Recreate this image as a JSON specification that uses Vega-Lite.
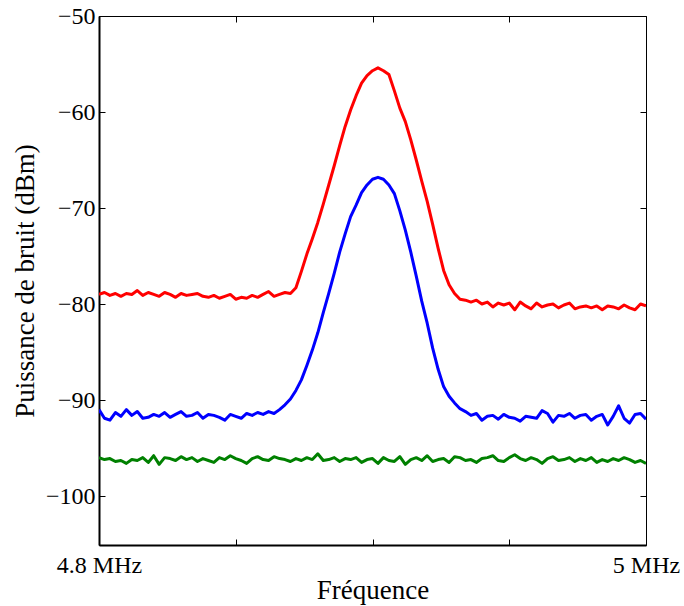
{
  "$schema": "https://vega.github.io/schema/vega-lite/v6.json",
  "width": 547,
  "height": 529,
  "autosize": {"type": "none"},
  "padding": {"left": 99, "top": 16, "right": 38, "bottom": 61},
  "background": "white",
  "config": {
    "view": {"stroke": "black", "strokeWidth": 1},
    "font": "Liberation Serif",
    "axis": {"labelFont": "Liberation Serif", "titleFont": "Liberation Serif", "labelColor": "black", "titleColor": "black", "grid": false, "tickColor": "black", "domainColor": "black", "labelFontSize": 24, "titleFontSize": 27, "titleFontWeight": "normal"}
  },
  "data": {"values": [
    {"f":4.800,"r":-79.0,"b":-91.0,"g":-96.0},
    {"f":4.802,"r":-78.8,"b":-91.9,"g":-96.2},
    {"f":4.804,"r":-79.1,"b":-92.1,"g":-96.1},
    {"f":4.806,"r":-78.9,"b":-91.3,"g":-96.4},
    {"f":4.808,"r":-79.2,"b":-91.7,"g":-96.3},
    {"f":4.810,"r":-78.9,"b":-91.0,"g":-96.6},
    {"f":4.812,"r":-79.0,"b":-91.6,"g":-96.2},
    {"f":4.814,"r":-78.6,"b":-91.2,"g":-96.3},
    {"f":4.816,"r":-79.1,"b":-91.9,"g":-96.0},
    {"f":4.818,"r":-78.8,"b":-91.8,"g":-96.5},
    {"f":4.820,"r":-79.0,"b":-91.5,"g":-95.8},
    {"f":4.822,"r":-79.2,"b":-91.7,"g":-96.7},
    {"f":4.824,"r":-78.8,"b":-91.3,"g":-96.0},
    {"f":4.826,"r":-79.0,"b":-91.8,"g":-96.1},
    {"f":4.828,"r":-79.3,"b":-91.5,"g":-96.3},
    {"f":4.830,"r":-78.9,"b":-91.2,"g":-95.9},
    {"f":4.832,"r":-79.1,"b":-91.7,"g":-96.2},
    {"f":4.834,"r":-79.0,"b":-91.6,"g":-96.0},
    {"f":4.836,"r":-78.9,"b":-91.3,"g":-96.4},
    {"f":4.838,"r":-79.2,"b":-91.9,"g":-96.1},
    {"f":4.840,"r":-79.3,"b":-91.5,"g":-96.3},
    {"f":4.842,"r":-79.1,"b":-91.6,"g":-96.5},
    {"f":4.844,"r":-79.4,"b":-91.8,"g":-96.0},
    {"f":4.846,"r":-79.2,"b":-92.1,"g":-96.2},
    {"f":4.848,"r":-79.0,"b":-91.5,"g":-95.8},
    {"f":4.850,"r":-79.5,"b":-91.7,"g":-96.1},
    {"f":4.852,"r":-79.3,"b":-91.9,"g":-96.3},
    {"f":4.854,"r":-79.4,"b":-91.4,"g":-96.6},
    {"f":4.856,"r":-79.1,"b":-91.6,"g":-96.1},
    {"f":4.858,"r":-79.3,"b":-91.3,"g":-95.9},
    {"f":4.860,"r":-79.0,"b":-91.5,"g":-96.2},
    {"f":4.862,"r":-78.7,"b":-91.2,"g":-96.3},
    {"f":4.864,"r":-79.2,"b":-91.4,"g":-95.9},
    {"f":4.866,"r":-79.0,"b":-91.0,"g":-96.1},
    {"f":4.868,"r":-78.8,"b":-90.5,"g":-96.2},
    {"f":4.870,"r":-78.9,"b":-89.9,"g":-96.4},
    {"f":4.872,"r":-78.3,"b":-89.0,"g":-96.1},
    {"f":4.874,"r":-76.6,"b":-87.9,"g":-96.3},
    {"f":4.876,"r":-74.8,"b":-86.4,"g":-96.0},
    {"f":4.878,"r":-73.2,"b":-84.8,"g":-96.2},
    {"f":4.880,"r":-71.5,"b":-83.0,"g":-95.6},
    {"f":4.882,"r":-69.6,"b":-80.9,"g":-96.3},
    {"f":4.884,"r":-67.6,"b":-78.9,"g":-96.2},
    {"f":4.886,"r":-65.6,"b":-76.8,"g":-96.0},
    {"f":4.888,"r":-63.5,"b":-74.6,"g":-96.4},
    {"f":4.890,"r":-61.5,"b":-72.7,"g":-96.1},
    {"f":4.892,"r":-59.8,"b":-70.9,"g":-96.2},
    {"f":4.894,"r":-58.3,"b":-69.7,"g":-96.0},
    {"f":4.896,"r":-57.0,"b":-68.4,"g":-96.5},
    {"f":4.898,"r":-56.2,"b":-67.6,"g":-96.2},
    {"f":4.900,"r":-55.7,"b":-67.0,"g":-96.1},
    {"f":4.902,"r":-55.4,"b":-66.8,"g":-96.6},
    {"f":4.904,"r":-55.7,"b":-67.0,"g":-96.0},
    {"f":4.906,"r":-56.1,"b":-67.6,"g":-96.3},
    {"f":4.908,"r":-57.8,"b":-68.5,"g":-96.4},
    {"f":4.910,"r":-59.6,"b":-70.3,"g":-95.9},
    {"f":4.912,"r":-61.0,"b":-72.3,"g":-96.7},
    {"f":4.914,"r":-62.9,"b":-74.6,"g":-96.2},
    {"f":4.916,"r":-65.0,"b":-77.1,"g":-96.0},
    {"f":4.918,"r":-67.2,"b":-79.7,"g":-96.3},
    {"f":4.920,"r":-69.3,"b":-82.0,"g":-95.8},
    {"f":4.922,"r":-71.7,"b":-84.6,"g":-96.4},
    {"f":4.924,"r":-74.2,"b":-86.8,"g":-96.2},
    {"f":4.926,"r":-76.5,"b":-88.6,"g":-96.1},
    {"f":4.928,"r":-78.0,"b":-89.6,"g":-96.5},
    {"f":4.930,"r":-78.9,"b":-90.3,"g":-95.9},
    {"f":4.932,"r":-79.5,"b":-90.9,"g":-96.0},
    {"f":4.934,"r":-79.6,"b":-91.2,"g":-96.3},
    {"f":4.936,"r":-79.8,"b":-91.6,"g":-96.2},
    {"f":4.938,"r":-79.6,"b":-91.4,"g":-96.5},
    {"f":4.940,"r":-80.0,"b":-92.1,"g":-96.1},
    {"f":4.942,"r":-79.8,"b":-91.7,"g":-96.0},
    {"f":4.944,"r":-80.3,"b":-91.6,"g":-95.8},
    {"f":4.946,"r":-79.9,"b":-92.0,"g":-96.3},
    {"f":4.948,"r":-80.1,"b":-91.5,"g":-96.4},
    {"f":4.950,"r":-79.9,"b":-91.8,"g":-96.0},
    {"f":4.952,"r":-80.6,"b":-91.9,"g":-95.7},
    {"f":4.954,"r":-79.8,"b":-92.2,"g":-96.1},
    {"f":4.956,"r":-80.2,"b":-91.7,"g":-96.3},
    {"f":4.958,"r":-80.5,"b":-91.8,"g":-96.0},
    {"f":4.960,"r":-79.9,"b":-91.9,"g":-96.2},
    {"f":4.962,"r":-80.3,"b":-91.1,"g":-96.6},
    {"f":4.964,"r":-80.1,"b":-91.4,"g":-96.1},
    {"f":4.966,"r":-80.0,"b":-92.3,"g":-95.9},
    {"f":4.968,"r":-80.4,"b":-91.6,"g":-96.3},
    {"f":4.970,"r":-80.1,"b":-91.7,"g":-96.2},
    {"f":4.972,"r":-79.9,"b":-91.4,"g":-96.0},
    {"f":4.974,"r":-80.5,"b":-91.9,"g":-96.4},
    {"f":4.976,"r":-80.3,"b":-91.6,"g":-96.1},
    {"f":4.978,"r":-80.2,"b":-91.5,"g":-96.3},
    {"f":4.980,"r":-80.4,"b":-92.1,"g":-96.0},
    {"f":4.982,"r":-80.2,"b":-91.7,"g":-96.5},
    {"f":4.984,"r":-80.6,"b":-91.5,"g":-96.2},
    {"f":4.986,"r":-80.2,"b":-92.6,"g":-96.4},
    {"f":4.988,"r":-80.3,"b":-91.7,"g":-96.1},
    {"f":4.990,"r":-80.5,"b":-90.6,"g":-96.3},
    {"f":4.992,"r":-80.1,"b":-91.9,"g":-96.0},
    {"f":4.994,"r":-80.4,"b":-92.4,"g":-96.2},
    {"f":4.996,"r":-80.6,"b":-91.5,"g":-96.5},
    {"f":4.998,"r":-80.0,"b":-91.4,"g":-96.3},
    {"f":5.000,"r":-80.2,"b":-92.0,"g":-96.6}
  ]},
  "transform": [{"fold": ["r", "b", "g"], "as": ["series", "power"]}],
  "layer": [
    {
      "mark": {"type": "line", "strokeWidth": 3, "strokeJoin": "round", "clip": true},
      "encoding": {
        "x": {"field": "f", "type": "quantitative",
              "scale": {"domain": [4.8, 5.0], "nice": false, "zero": false},
              "axis": {"orient": "bottom", "title": "Fréquence", "values": [4.8, 4.85, 4.9, 4.95, 5.0],
                       "labelExpr": "abs(datum.value-4.8)<0.001 ? '4.8 MHz' : abs(datum.value-5)<0.001 ? '5 MHz' : ''",
                       "tickSize": -6, "labelPadding": 14, "domainWidth": 2, "titlePadding": 0, "labelFlush": false, "labelOverlap": false}},
        "y": {"field": "power", "type": "quantitative",
              "scale": {"domain": [-105.1, -50], "nice": false, "zero": false},
              "axis": {"orient": "left", "title": "Puissance de bruit (dBm)", "values": [-50, -60, -70, -80, -90, -100],
                       "tickSize": -6, "labelPadding": 10, "domainWidth": 2, "titlePadding": 6, "labelFlush": false, "labelOverlap": false}},
        "color": {"field": "series", "type": "nominal",
                  "scale": {"domain": ["r", "b", "g"], "range": ["#ff0000", "#0000ff", "#008000"]},
                  "legend": null}
      }
    },
    {
      "mark": {"type": "line", "strokeOpacity": 0},
      "encoding": {
        "x": {"field": "f", "type": "quantitative",
              "axis": {"orient": "top", "title": null, "values": [4.8, 4.85, 4.9, 4.95, 5.0], "labels": false, "tickSize": -6, "domain": false}},
        "y": {"field": "power", "type": "quantitative",
              "axis": {"orient": "right", "title": null, "values": [-50, -60, -70, -80, -90, -100], "labels": false, "tickSize": -6, "domain": false}},
        "detail": {"field": "series"}
      }
    }
  ],
  "resolve": {"axis": {"x": "independent", "y": "independent"}}
}
